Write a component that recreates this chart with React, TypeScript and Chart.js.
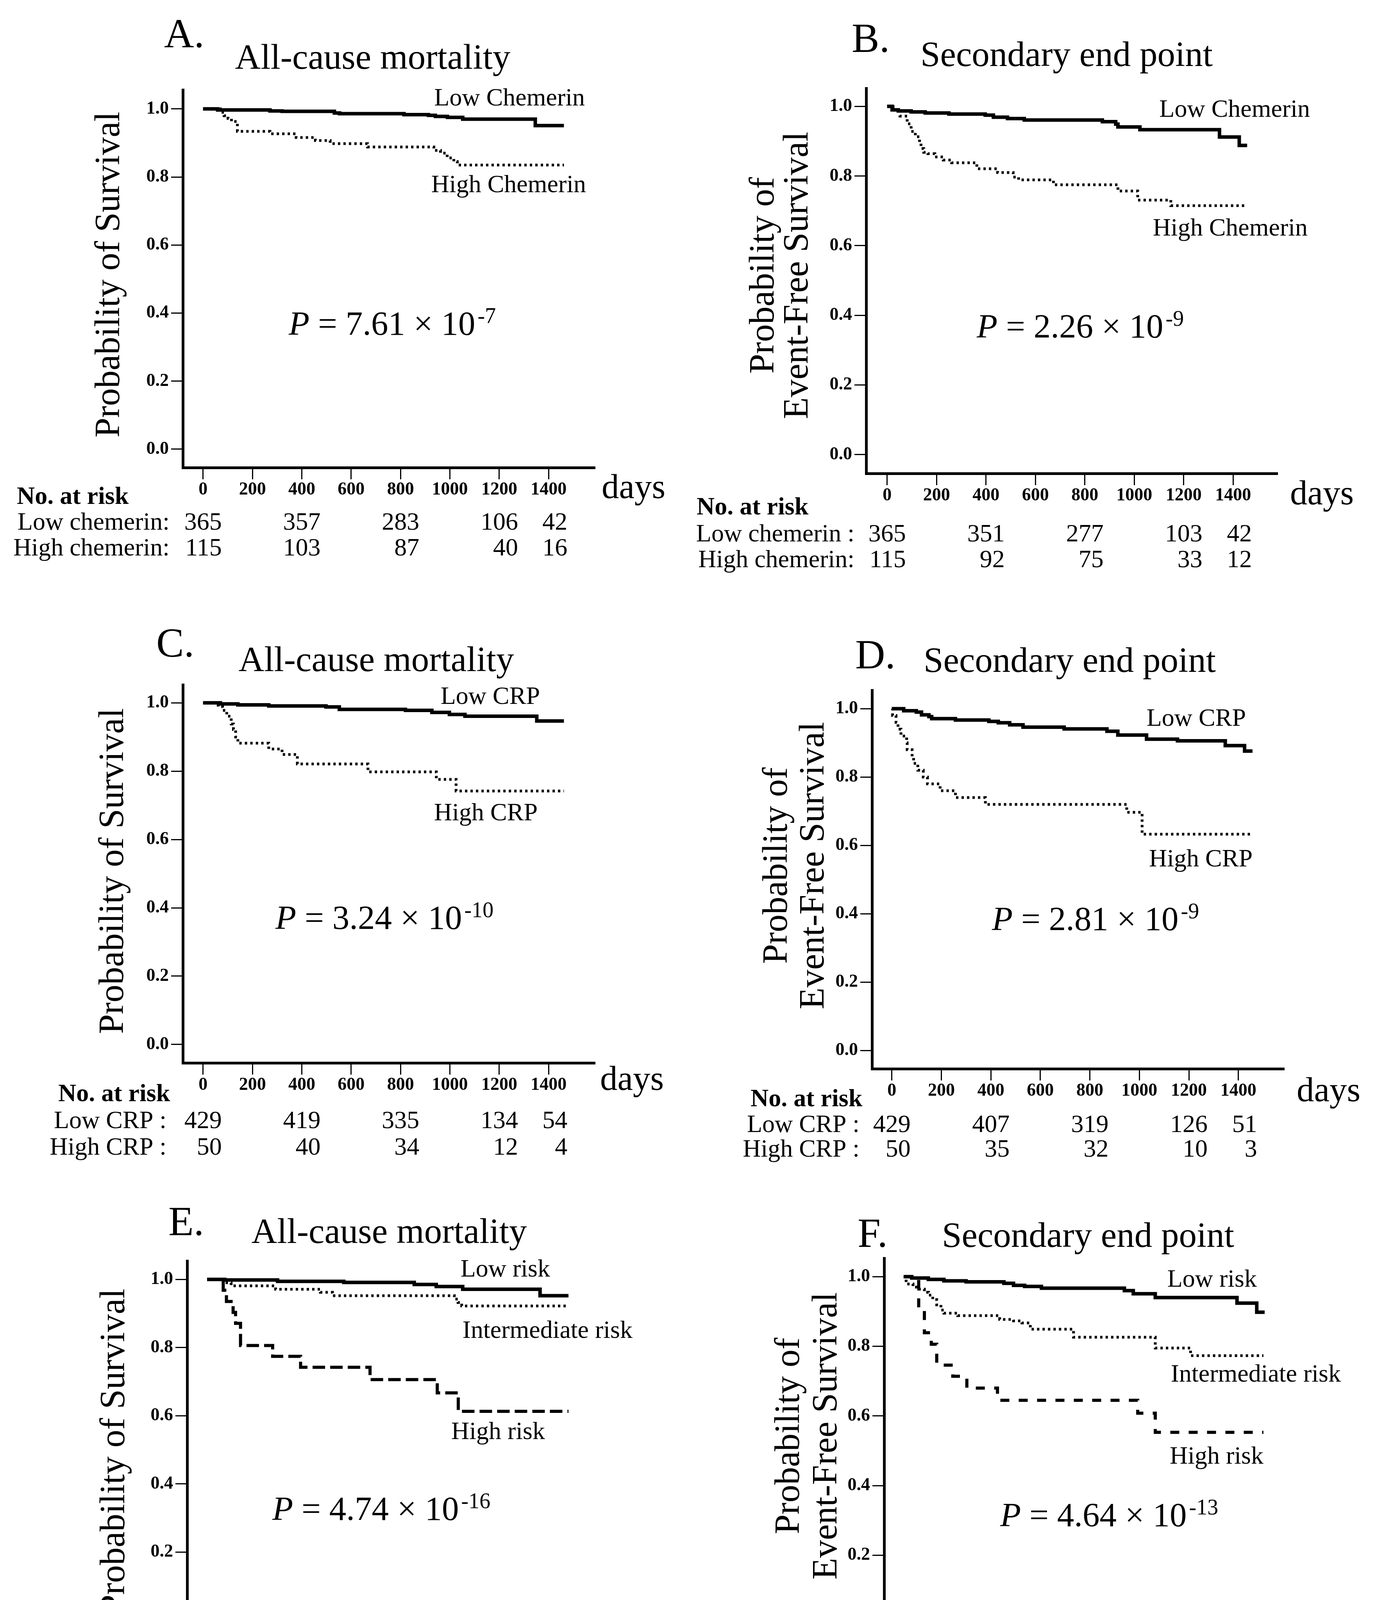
import React, { useEffect, useRef } from 'react';
import { Chart, registerables } from 'chart.js';

Chart.register(...registerables);

const FONT = '"Liberation Serif", "Times New Roman", serif';

// ---------- axes ----------
const xTicks = [0, 200, 400, 600, 800, 1000, 1200, 1400];
const xTickLabels = ['0', '200', '400', '600', '800', '1000', '1200', '1400'];
const yTicks = [0, 0.2, 0.4, 0.6, 0.8, 1.0];
const yTickLabels = ['0.0', '0.2', '0.4', '0.6', '0.8', '1.0'];
const riskTimes = [0, 400, 800, 1200, 1400];

// ---------- Panel A: chemerin, all-cause mortality ----------
const aLowDays = [0, 59, 271, 320, 532, 553, 814, 913, 941, 990, 1052, 1346, 1462];
const aLowSurv = [1, 0.997, 0.994, 0.993, 0.988, 0.986, 0.983, 0.981, 0.978, 0.975, 0.970, 0.951, 0.951];
const aHighDays = [0, 70, 85, 101, 115, 139, 271, 377, 455, 515, 666, 935, 962, 989, 1016, 1030, 1462];
const aHighSurv = [1, 0.99, 0.98, 0.972, 0.963, 0.934, 0.927, 0.916, 0.907, 0.898, 0.888, 0.878, 0.870, 0.856, 0.845, 0.835, 0.835];
const aRiskLow = [365, 357, 283, 106, 42];
const aRiskHigh = [115, 103, 87, 40, 16];

// ---------- Panel B: chemerin, secondary end point ----------
const bLowDays = [0, 20, 45, 97, 154, 250, 397, 430, 487, 555, 871, 925, 934, 1023, 1345, 1425, 1457];
const bLowSurv = [1, 0.99, 0.987, 0.984, 0.981, 0.978, 0.975, 0.969, 0.965, 0.961, 0.956, 0.949, 0.941, 0.933, 0.912, 0.888, 0.888];
const bHighDays = [0, 24, 52, 81, 97, 114, 131, 137, 148, 165, 193, 227, 261, 363, 447, 510, 532, 673, 934, 1014, 1148, 1457];
const bHighSurv = [1, 0.991, 0.972, 0.950, 0.928, 0.913, 0.894, 0.879, 0.868, 0.864, 0.855, 0.846, 0.838, 0.821, 0.810, 0.797, 0.789, 0.775, 0.757, 0.731, 0.715, 0.715];
const bRiskLow = [365, 351, 277, 103, 42];
const bRiskHigh = [115, 92, 75, 33, 12];

// ---------- Panel C: CRP, all-cause mortality ----------
const cLowDays = [0, 70, 141, 266, 498, 552, 820, 927, 998, 1061, 1352, 1462];
const cLowSurv = [1, 0.997, 0.994, 0.991, 0.988, 0.981, 0.978, 0.972, 0.966, 0.961, 0.947, 0.947];
const cHighDays = [0, 61, 79, 96, 114, 123, 132, 141, 266, 320, 382, 668, 945, 1025, 1462];
const cHighSurv = [1, 0.989, 0.978, 0.961, 0.938, 0.922, 0.900, 0.882, 0.865, 0.849, 0.821, 0.798, 0.776, 0.742, 0.742];
const cRiskLow = [429, 419, 335, 134, 54];
const cRiskHigh = [50, 40, 34, 12, 4];

// ---------- Panel D: CRP, secondary end point ----------
const dLowDays = [0, 48, 99, 120, 150, 161, 257, 392, 430, 476, 530, 696, 869, 913, 1029, 1154, 1347, 1425, 1457];
const dLowSurv = [1, 0.994, 0.990, 0.982, 0.977, 0.971, 0.967, 0.963, 0.959, 0.953, 0.946, 0.941, 0.934, 0.923, 0.911, 0.906, 0.892, 0.876, 0.876];
const dHighDays = [0, 3, 17, 25, 37, 60, 62, 82, 88, 105, 127, 144, 195, 257, 378, 949, 1011, 1457];
const dHighSurv = [1, 0.98, 0.96, 0.94, 0.92, 0.90, 0.88, 0.86, 0.84, 0.82, 0.80, 0.78, 0.76, 0.74, 0.72, 0.697, 0.633, 0.633];
const dRiskLow = [429, 407, 319, 126, 51];
const dRiskHigh = [50, 35, 32, 10, 3];

// ---------- Panel E: risk subgroups, all-cause mortality ----------
const eLowDays = [0, 71, 285, 553, 838, 927, 1034, 1347, 1462];
const eLowSurv = [1, 0.998, 0.994, 0.991, 0.985, 0.979, 0.971, 0.952, 0.952];
const eMidDays = [0, 65, 97, 277, 458, 507, 1000, 1015, 1030, 1462];
const eMidSurv = [1, 0.990, 0.981, 0.971, 0.962, 0.952, 0.942, 0.932, 0.922, 0.922];
const eHighDays = [0, 65, 78, 105, 115, 135, 265, 378, 659, 931, 1016, 1462];
const eHighSurv = [1, 0.968, 0.935, 0.903, 0.871, 0.806, 0.774, 0.742, 0.706, 0.667, 0.613, 0.613];
const eRiskLow = [345, 338, 267, 101, 41];
const eRiskMid = [103, 99, 83, 38, 14];
const eRiskHigh = [31, 22, 19, 7, 3];

// ---------- Panel F: risk subgroups, secondary end point ----------
const fLowDays = [0, 33, 100, 163, 253, 406, 445, 490, 558, 894, 930, 1019, 1350, 1430, 1462];
const fLowSurv = [1, 0.996, 0.992, 0.988, 0.985, 0.981, 0.975, 0.972, 0.967, 0.960, 0.951, 0.940, 0.924, 0.898, 0.898];
const fMidDays = [0, 10, 38, 61, 84, 101, 118, 134, 151, 163, 219, 389, 445, 479, 513, 688, 1019, 1162, 1457];
const fMidSurv = [1, 0.979, 0.970, 0.964, 0.955, 0.947, 0.934, 0.919, 0.904, 0.895, 0.888, 0.877, 0.873, 0.867, 0.849, 0.826, 0.795, 0.773, 0.773];
const fHighDays = [0, 61, 84, 112, 134, 199, 256, 380, 948, 1019, 1457];
const fHighSurv = [1, 0.903, 0.839, 0.806, 0.746, 0.714, 0.680, 0.645, 0.608, 0.553, 0.553];
const fRiskLow = [345, 334, 262, 99, 41];
const fRiskMid = [103, 89, 71, 31, 11];
const fRiskHigh = [31, 19, 18, 6, 2];

// ---------- styles ----------
const SOLID = { width: 9, dash: [] as number[] };
const DOTTED = { width: 7, dash: [6, 8] };
const DASHED_E = { width: 8, dash: [32, 13] };
const DASHED_F = { width: 8, dash: [23, 24] };

const AXIS_W = 7;
const Y_AXIS_W = 300;
const X_AXIS_H = 150;
const RISK_OFFSET = 48;

const PANELS: any[] = [
  {
    id: 'A', box: [0, 0, 1761, 1480], area: [468, 230, 1523, 1197],
    xRange: [-82, 1588], yRange: [-0.054, 1.056],
    letter: { text: 'A.', x: 420, y: 121 },
    title: { text: 'All-cause mortality', x: 954, y: 176 },
    ylabel: { lines: ['Probability of Survival'], cy: 703, xs: [305] },
    curves: [
      { days: aLowDays, surv: aLowSurv, style: SOLID },
      { days: aHighDays, surv: aHighSurv, style: DOTTED },
    ],
    labels: [
      { text: 'Low Chemerin', x: 1497, y: 270 },
      { text: 'High Chemerin', x: 1500, y: 492 },
    ],
    p: { base: ' = 7.61 \u00d7 10', exp: '-7', x: 739, y: 857 },
    days: { x: 1540, y: 1275 },
    header: { text: 'No. at risk', x: 43, y: 1290 },
    rowRight: 434,
    rows: [
      { label: 'Low chemerin:', values: aRiskLow, y: 1356 },
      { label: 'High chemerin:', values: aRiskHigh, y: 1422 },
    ],
  },
  {
    id: 'B', box: [1761, 0, 1761, 1480], area: [2217, 226, 3270, 1212],
    xRange: [-85, 1580], yRange: [-0.054, 1.052],
    letter: { text: 'B.', x: 2180, y: 133 },
    title: { text: 'Secondary end point', x: 2730, y: 169 },
    ylabel: { lines: ['Probability of', 'Event-Free Survival'], cy: 705, xs: [1980, 2067] },
    curves: [
      { days: bLowDays, surv: bLowSurv, style: SOLID },
      { days: bHighDays, surv: bHighSurv, style: DOTTED },
    ],
    labels: [
      { text: 'Low Chemerin', x: 3353, y: 299 },
      { text: 'High Chemerin', x: 3347, y: 603 },
    ],
    p: { base: ' = 2.26 \u00d7 10', exp: '-9', x: 2500, y: 864 },
    days: { x: 3302, y: 1291 },
    header: { text: 'No. at risk', x: 1783, y: 1317 },
    rowRight: 2187,
    rows: [
      { label: 'Low chemerin :', values: bRiskLow, y: 1386 },
      { label: 'High chemerin:', values: bRiskHigh, y: 1452 },
    ],
  },
  {
    id: 'C', box: [0, 1480, 1761, 1530], area: [468, 1753, 1523, 2721],
    xRange: [-82, 1588], yRange: [-0.054, 1.053],
    letter: { text: 'C.', x: 400, y: 1681 },
    title: { text: 'All-cause mortality', x: 963, y: 1718 },
    ylabel: { lines: ['Probability of Survival'], cy: 2230, xs: [315] },
    curves: [
      { days: cLowDays, surv: cLowSurv, style: SOLID },
      { days: cHighDays, surv: cHighSurv, style: DOTTED },
    ],
    labels: [
      { text: 'Low CRP', x: 1382, y: 1802 },
      { text: 'High CRP', x: 1376, y: 2100 },
    ],
    p: { base: ' = 3.24 \u00d7 10', exp: '-10', x: 705, y: 2378 },
    days: { x: 1536, y: 2790 },
    header: { text: 'No. at risk', x: 149, y: 2819 },
    rowRight: 426,
    rows: [
      { label: 'Low CRP :', values: cRiskLow, y: 2888 },
      { label: 'High CRP :', values: cRiskHigh, y: 2956 },
    ],
  },
  {
    id: 'D', box: [1761, 1480, 1761, 1530], area: [2232, 1767, 3287, 2736],
    xRange: [-80, 1585], yRange: [-0.053, 1.054],
    letter: { text: 'D.', x: 2189, y: 1711 },
    title: { text: 'Secondary end point', x: 2738, y: 1720 },
    ylabel: { lines: ['Probability of', 'Event-Free Survival'], cy: 2216, xs: [2014, 2108] },
    curves: [
      { days: dLowDays, surv: dLowSurv, style: SOLID },
      { days: dHighDays, surv: dHighSurv, style: DOTTED },
    ],
    labels: [
      { text: 'Low CRP', x: 3189, y: 1858 },
      { text: 'High CRP', x: 3206, y: 2218 },
    ],
    p: { base: ' = 2.81 \u00d7 10', exp: '-9', x: 2539, y: 2381 },
    days: { x: 3319, y: 2819 },
    header: { text: 'No. at risk', x: 1921, y: 2832 },
    rowRight: 2200,
    rows: [
      { label: 'Low CRP :', values: dRiskLow, y: 2898 },
      { label: 'High CRP :', values: dRiskHigh, y: 2961 },
    ],
  },
  {
    id: 'E', box: [0, 3010, 1761, 1580], area: [479, 3228, 1531, 4195],
    xRange: [-81, 1582], yRange: [-0.054, 1.054],
    letter: { text: 'E.', x: 431, y: 3162 },
    title: { text: 'All-cause mortality', x: 996, y: 3182 },
    ylabel: { lines: ['Probability of Survival'], cy: 3716, xs: [318] },
    curves: [
      { days: eLowDays, surv: eLowSurv, style: SOLID },
      { days: eMidDays, surv: eMidSurv, style: DOTTED },
      { days: eHighDays, surv: eHighSurv, style: DASHED_E },
    ],
    labels: [
      { text: 'Low risk', x: 1408, y: 3268 },
      { text: 'Intermediate risk', x: 1619, y: 3425 },
      { text: 'High risk', x: 1395, y: 3684 },
    ],
    p: { base: ' = 4.74 \u00d7 10', exp: '-16', x: 697, y: 3891 },
    days: { x: 1532, y: 4291 },
    header: { text: 'Risk subgroups, No. at risk', x: 316, y: 4339 },
    rowRight: 438,
    rows: [
      { label: 'Low:', values: eRiskLow, y: 4408 },
      { label: 'Intermediate:', values: eRiskMid, y: 4477 },
      { label: 'High:', values: eRiskHigh, y: 4545 },
    ],
  },
  {
    id: 'F', box: [1761, 3010, 1761, 1580], area: [2263, 3221, 3316, 4205],
    xRange: [-79, 1587], yRange: [-0.051, 1.053],
    letter: { text: 'F.', x: 2195, y: 3192 },
    title: { text: 'Secondary end point', x: 2785, y: 3192 },
    ylabel: { lines: ['Probability of', 'Event-Free Survival'], cy: 3676, xs: [2045, 2141] },
    curves: [
      { days: fLowDays, surv: fLowSurv, style: SOLID },
      { days: fMidDays, surv: fMidSurv, style: DOTTED },
      { days: fHighDays, surv: fHighSurv, style: DASHED_F },
    ],
    labels: [
      { text: 'Low risk', x: 3217, y: 3294 },
      { text: 'Intermediate risk', x: 3432, y: 3537 },
      { text: 'High risk', x: 3234, y: 3747 },
    ],
    p: { base: ' = 4.64 \u00d7 10', exp: '-13', x: 2560, y: 3907 },
    days: { x: 3330, y: 4281 },
    header: { text: 'Subgroup, No. at risk', x: 2097, y: 4349 },
    rowRight: 2229,
    rows: [
      { label: 'Low:', values: fRiskLow, y: 4418 },
      { label: 'Intermediate:', values: fRiskMid, y: 4484 },
      { label: 'High:', values: fRiskHigh, y: 4545 },
    ],
  },
];

function annotationPlugin(cfg: any) {
  return {
    id: 'annot' + cfg.id,
    afterDraw(chart: any) {
      const ctx = chart.ctx as CanvasRenderingContext2D;
      const ox = cfg.box[0];
      const oy = cfg.box[1];
      ctx.save();
      ctx.fillStyle = '#000';
      ctx.textBaseline = 'alphabetic';
      const text = (s: string, x: number, y: number, font: string, align: CanvasTextAlign = 'left') => {
        ctx.font = font;
        ctx.textAlign = align;
        ctx.fillText(s, x - ox, y - oy);
      };
      text(cfg.letter.text, cfg.letter.x, cfg.letter.y, `106px ${FONT}`);
      text(cfg.title.text, cfg.title.x, cfg.title.y, `91px ${FONT}`, 'center');
      cfg.ylabel.lines.forEach((line: string, i: number) => {
        ctx.save();
        ctx.translate(cfg.ylabel.xs[i] - ox, cfg.ylabel.cy - oy);
        ctx.rotate(-Math.PI / 2);
        ctx.font = `91px ${FONT}`;
        ctx.textAlign = 'center';
        ctx.fillText(line, 0, 0);
        ctx.restore();
      });
      cfg.labels.forEach((l: any) => text(l.text, l.x, l.y, `64px ${FONT}`, 'right'));

      // P value
      let px = cfg.p.x - ox;
      const py = cfg.p.y - oy;
      ctx.textAlign = 'left';
      ctx.font = `italic 87px ${FONT}`;
      ctx.fillText('P', px, py);
      px += ctx.measureText('P').width;
      ctx.font = `87px ${FONT}`;
      ctx.fillText(cfg.p.base, px, py);
      px += ctx.measureText(cfg.p.base).width;
      ctx.font = `56px ${FONT}`;
      ctx.fillText(cfg.p.exp, px + 6, py - 30);

      text('days', cfg.days.x, cfg.days.y, `89px ${FONT}`);
      text(cfg.header.text, cfg.header.x, cfg.header.y, `bold 64px ${FONT}`);

      const xs = chart.scales.x;
      cfg.rows.forEach((r: any) => {
        text(r.label, cfg.rowRight, r.y, `64px ${FONT}`, 'right');
        ctx.font = `64px ${FONT}`;
        ctx.textAlign = 'right';
        r.values.forEach((v: number, i: number) => {
          ctx.fillText(String(v), xs.getPixelForValue(riskTimes[i]) + RISK_OFFSET, r.y - oy);
        });
      });
      ctx.restore();
    },
  };
}

function KMPanel({ cfg }: { cfg: any }) {
  const ref = useRef<HTMLCanvasElement | null>(null);
  const [bx, by, bw, bh] = cfg.box;
  useEffect(() => {
    const [l, t, r, b] = cfg.area;
    const tickFont = { family: FONT, weight: 'bold' as const, size: 46 };
    const chart = new Chart(ref.current as HTMLCanvasElement, {
      type: 'line',
      data: {
        datasets: cfg.curves.map((c: any) => ({
          data: c.days.map((d: number, i: number) => ({ x: d, y: c.surv[i] })),
          borderColor: '#000',
          borderWidth: c.style.width,
          borderDash: c.style.dash,
          borderCapStyle: 'butt',
          borderJoinStyle: 'miter',
          stepped: 'before',
          pointRadius: 0,
          pointHoverRadius: 0,
          fill: false,
          tension: 0,
        })),
      },
      options: {
        animation: false,
        responsive: false,
        devicePixelRatio: 1,
        events: [],
        layout: {
          padding: {
            left: l - bx - Y_AXIS_W,
            top: t - by,
            right: bx + bw - r,
            bottom: by + bh - b - X_AXIS_H,
          },
        },
        plugins: { legend: { display: false }, tooltip: { enabled: false } },
        scales: {
          x: {
            type: 'linear',
            min: cfg.xRange[0],
            max: cfg.xRange[1],
            afterBuildTicks: (s: any) => { s.ticks = xTicks.map((v) => ({ value: v })); },
            afterFit: (s: any) => { s.height = X_AXIS_H; },
            ticks: {
              font: tickFont,
              color: '#000',
              padding: 0,
              autoSkip: false,
              maxRotation: 0,
              minRotation: 0,
              callback: (_v: any, i: number) => xTickLabels[i],
            },
            grid: {
              display: true,
              drawOnChartArea: false,
              drawTicks: true,
              tickLength: 30,
              tickWidth: 3,
              tickColor: '#000',
            },
            border: { display: true, color: '#000', width: AXIS_W },
          },
          y: {
            type: 'linear',
            min: cfg.yRange[0],
            max: cfg.yRange[1],
            afterBuildTicks: (s: any) => { s.ticks = yTicks.map((v) => ({ value: v })); },
            afterFit: (s: any) => { s.width = Y_AXIS_W; },
            ticks: {
              font: tickFont,
              color: '#000',
              padding: 6,
              autoSkip: false,
              callback: (_v: any, i: number) => yTickLabels[i],
            },
            grid: {
              display: true,
              drawOnChartArea: false,
              drawTicks: true,
              tickLength: 30,
              tickWidth: 3,
              tickColor: '#000',
            },
            border: { display: true, color: '#000', width: AXIS_W },
          },
        },
      } as any,
      plugins: [annotationPlugin(cfg)],
    });
    return () => chart.destroy();
  }, [cfg]);
  return (
    <canvas
      ref={ref}
      width={bw}
      height={bh}
      style={{ position: 'absolute', left: bx, top: by, width: bw, height: bh }}
    />
  );
}

export default function App() {
  useEffect(() => {
    document.body.style.margin = '0';
  }, []);
  return (
    <div
      style={{
        position: 'absolute',
        left: 0,
        top: 0,
        width: 3522,
        height: 4590,
        background: '#fff',
        overflow: 'hidden',
      }}
    >
      {PANELS.map((p) => (
        <KMPanel key={p.id} cfg={p} />
      ))}
    </div>
  );
}
